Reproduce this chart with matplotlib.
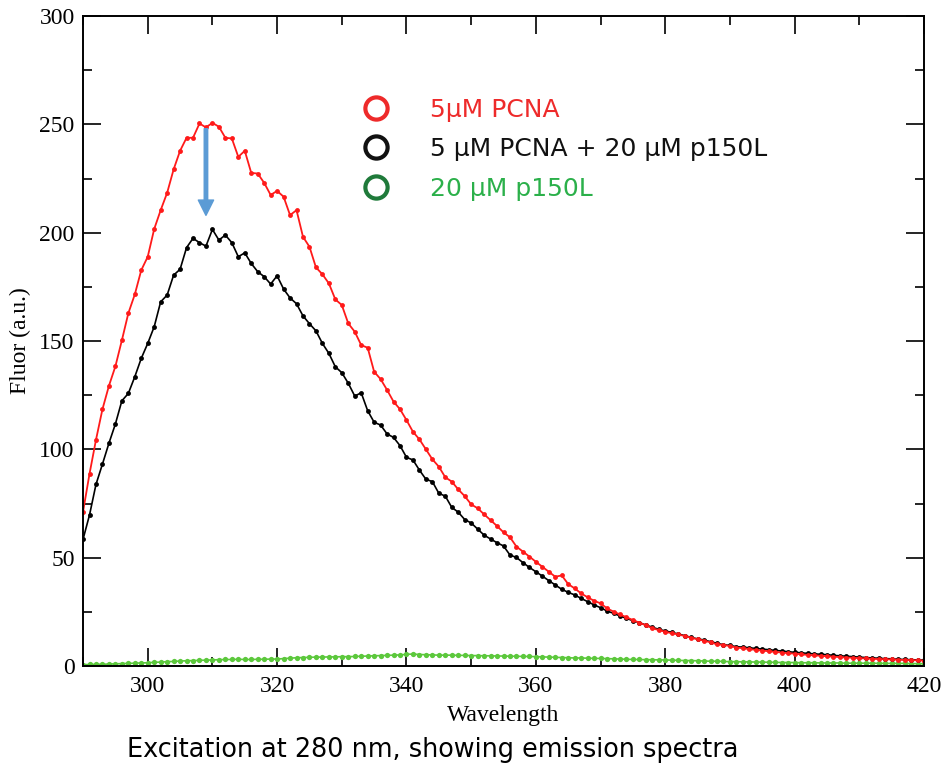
import numpy as np
import matplotlib
matplotlib.use('Agg')
import matplotlib.pyplot as plt
from matplotlib.lines import Line2D
from matplotlib.ticker import MultipleLocator

# emission spectra, 1 nm steps from 290 to 420 nm
wavelength = np.arange(290, 421)

pcna = [
	71.2, 88.7, 104.4, 118.5, 129.3, 138.3, 150.3, 162.8, 171.5, 182.7,
	188.9, 201.7, 210.4, 218.4, 229.2, 237.8, 243.8, 243.8, 250.4, 248.6,
	250.7, 248.9, 243.8, 243.5, 235.0, 237.8, 227.6, 227.3, 223.0, 217.4,
	219.3, 216.6, 208.1, 210.4, 198.1, 193.5, 184.0, 180.8, 176.6, 169.2,
	166.6, 158.1, 154.3, 148.1, 146.9, 135.8, 132.4, 127.4, 122.0, 118.5,
	113.5, 108.1, 104.6, 100.0, 95.4, 92.0, 87.1, 85.1, 81.5, 78.4,
	74.6, 72.8, 70.0, 67.3, 64.6, 61.7, 59.4, 55.1, 52.8, 50.5,
	48.1, 45.8, 43.5, 41.2, 41.8, 37.8, 35.8, 33.5, 31.7, 30.1,
	28.9, 26.6, 25.1, 23.8, 22.5, 21.2, 20.0, 18.8, 17.4, 16.6,
	15.8, 15.1, 14.6, 13.8, 13.1, 12.3, 11.7, 10.9, 10.0, 9.7,
	9.2, 8.5, 8.2, 7.8, 7.4, 7.1, 6.8, 6.5, 6.2, 5.9,
	5.7, 5.4, 5.1, 4.9, 4.7, 4.5, 4.3, 4.1, 3.9, 3.8,
	3.6, 3.5, 3.3, 3.2, 3.1, 3.0, 2.9, 2.8, 2.7, 2.6, 2.5]

pcna_p150 = [
	58.5, 69.7, 83.8, 93.2, 102.8, 111.7, 122.4, 125.8, 133.5, 142.0,
	148.9, 156.6, 168.1, 171.2, 180.4, 183.1, 193.1, 197.4, 195.4, 193.8,
	201.5, 196.6, 198.9, 195.4, 188.9, 190.7, 185.8, 182.0, 179.7, 176.3,
	180.1, 174.0, 169.9, 167.2, 161.6, 158.0, 154.7, 148.9, 144.3, 138.1,
	135.4, 130.5, 124.6, 126.1, 117.8, 112.5, 111.2, 107.1, 105.5, 101.7,
	96.3, 95.1, 90.4, 86.2, 85.1, 79.7, 78.4, 73.2, 71.0, 67.6,
	66.0, 63.2, 60.4, 58.6, 56.9, 55.4, 51.2, 50.1, 47.7, 45.5,
	43.5, 41.5, 39.4, 37.4, 35.4, 34.0, 32.8, 31.2, 29.7, 28.2,
	26.9, 25.4, 24.3, 23.1, 22.0, 20.9, 20.0, 18.9, 17.9, 16.9,
	16.2, 15.5, 14.8, 14.0, 13.2, 12.5, 12.0, 11.2, 10.5, 9.8,
	9.5, 8.9, 8.7, 8.4, 8.1, 7.8, 7.5, 7.2, 6.9, 6.6,
	6.3, 6.1, 5.8, 5.6, 5.4, 5.2, 4.9, 4.7, 4.5, 4.3,
	4.1, 3.9, 3.7, 3.6, 3.4, 3.3, 3.1, 3.0, 2.9, 2.8, 2.7]

p150 = [
	0.6, 0.7, 0.8, 0.8, 0.9, 1.0, 1.1, 1.2, 1.3, 1.4,
	1.5, 1.7, 1.8, 2.0, 2.1, 2.3, 2.4, 2.5, 2.6, 2.7,
	2.8, 2.9, 3.0, 3.0, 3.1, 3.0, 3.0, 3.1, 3.1, 3.2,
	3.2, 3.4, 3.6, 3.8, 3.9, 4.0, 4.1, 4.1, 4.2, 4.2,
	4.3, 4.3, 4.4, 4.5, 4.6, 4.7, 4.8, 4.9, 5.0, 5.1,
	5.4, 5.5, 5.3, 5.2, 5.1, 5.0, 5.0, 5.0, 4.9, 4.9,
	4.8, 4.8, 4.7, 4.7, 4.6, 4.6, 4.5, 4.5, 4.4, 4.4,
	4.3, 4.2, 4.1, 4.0, 3.9, 3.8, 3.7, 3.7, 3.6, 3.5,
	3.5, 3.4, 3.3, 3.2, 3.1, 3.0, 3.0, 2.9, 2.9, 2.8,
	2.8, 2.7, 2.6, 2.5, 2.5, 2.4, 2.3, 2.2, 2.2, 2.1,
	2.0, 2.0, 1.9, 1.9, 1.8, 1.8, 1.7, 1.7, 1.6, 1.6,
	1.6, 1.5, 1.5, 1.5, 1.4, 1.4, 1.4, 1.4, 1.3, 1.3,
	1.3, 1.3, 1.3, 1.2, 1.2, 1.2, 1.2, 1.2, 1.1, 1.1, 1.1]

labels = ['5\u00b5M PCNA', '5 \u00b5M PCNA + 20 \u00b5M p150L', '20 \u00b5M p150L']
text_colors = ['#ee2a2a', '#111111', '#2bb04a']
circle_colors = ['#ee2a2a', '#111111', '#1f7a3a']

serif = 'Liberation Serif'
sans = 'DejaVu Sans'

fig = plt.figure(figsize=(9.48, 7.71), dpi=100)
ax = fig.add_axes([0.0876, 0.1362, 0.8871, 0.843])

ax.plot(wavelength, p150, color='#5cc83c', lw=1.2, marker='o', ms=3.8, mew=0)
ax.plot(wavelength, pcna_p150, color='black', lw=1.2, marker='o', ms=3.5, mew=0)
ax.plot(wavelength, pcna, color='#ff1a1a', lw=1.3, marker='o', ms=3.5, mew=0)

ax.set_xlim(290, 420)
ax.set_ylim(0, 300)
ax.xaxis.set_major_locator(MultipleLocator(20))
ax.xaxis.set_minor_locator(MultipleLocator(10))
ax.yaxis.set_major_locator(MultipleLocator(50))
ax.yaxis.set_minor_locator(MultipleLocator(25))
ax.tick_params(which='both', direction='in', top=True, right=True, width=1.2)
ax.tick_params(which='major', length=13)
ax.tick_params(which='minor', length=6.5)
ax.tick_params(axis='x', pad=7)
ax.tick_params(axis='y', pad=6)
for lab in ax.get_xticklabels() + ax.get_yticklabels():
	lab.set_fontfamily(serif)
	lab.set_fontsize(17)
for sp in ax.spines.values():
	sp.set_linewidth(1.4)

ax.set_xlabel('Wavelength', fontfamily=serif, fontsize=17, labelpad=6)
ax.set_ylabel('Fluor (a.u.)', fontfamily=serif, fontsize=17, labelpad=6)

# drop in intensity after adding p150L
ax.annotate('', xy=(309, 208), xytext=(309, 248),
	arrowprops=dict(color='#5b9bd5', width=2.5, headwidth=11, headlength=11, shrink=0))

handles = [Line2D([], [], ls='none', marker='o', ms=16, mfc='none', mew=3, mec=c) for c in circle_colors]
leg = ax.legend(handles, labels, loc='upper left', bbox_to_anchor=(0.322, 0.89),
	frameon=False, prop={'family': sans, 'size': 18}, handlelength=1.0,
	handletextpad=1.65, labelspacing=0.62, borderaxespad=0)
for t, c in zip(leg.get_texts(), text_colors):
	t.set_color(c)

fig.text(0.457, 0.027, 'Excitation at 280 nm, showing emission spectra', family=sans,
	fontsize=18.4, ha='center', va='center')

fig.savefig('out.png', dpi=100)
